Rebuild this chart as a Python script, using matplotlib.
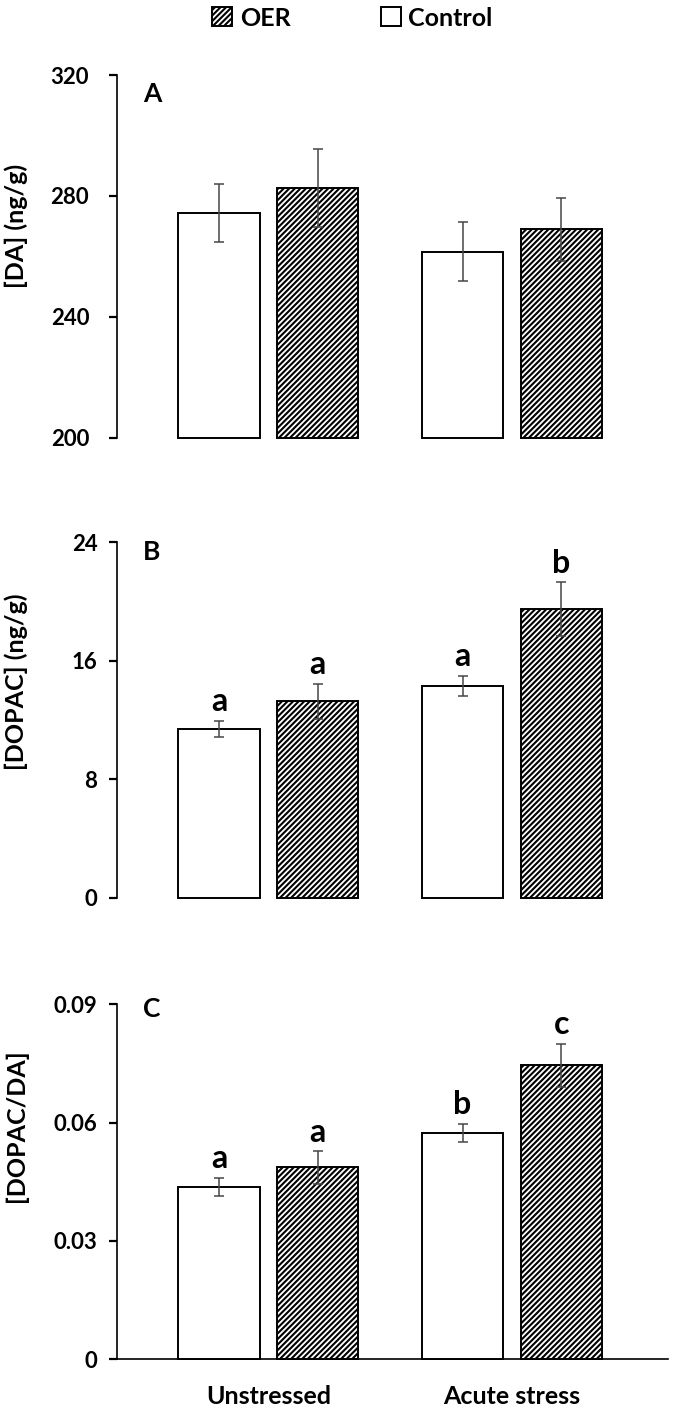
import matplotlib
matplotlib.use("Agg")
import matplotlib.pyplot as plt
import numpy as np

plt.rcParams['font.family'] = ['Lato', 'DejaVu Sans']
plt.rcParams['font.weight'] = 'bold'
plt.rcParams['hatch.linewidth'] = 1.5

# ---------------- data ----------------
groups = ["Unstressed", "Acute stress"]
series = ["OER", "Control"]

da_control = [274.3, 261.5]
da_control_err = [9.5, 9.8]
da_oer = [282.7, 268.9]
da_oer_err = [12.9, 10.3]

dopac_control = [11.4, 14.3]
dopac_control_err = [0.55, 0.7]
dopac_oer = [13.25, 19.5]
dopac_oer_err = [1.2, 1.8]
dopac_control_sig = ["a", "a"]
dopac_oer_sig = ["a", "b"]

ratio_control = [0.0436, 0.0573]
ratio_control_err = [0.0023, 0.0023]
ratio_oer = [0.0486, 0.0745]
ratio_oer_err = [0.0041, 0.0054]
ratio_control_sig = ["a", "b"]
ratio_oer_sig = ["a", "c"]

panel_letters = ["A", "B", "C"]
ylabels = ["[DA] (ng/g)", "[DOPAC] (ng/g)", "[DOPAC/DA]"]
yticks_A = [200, 240, 280, 320]
yticks_B = [0, 8, 16, 24]
yticks_C = [0, 0.03, 0.06, 0.09]
yticklabels_C = ["0", "0.03", "0.06", "0.09"]

# ---------------- figure ----------------
W, H = 674, 1411
fig = plt.figure(figsize=(W / 100, H / 100), dpi=100)
fig.patch.set_facecolor("white")


def px_axes(top, bottom, left=117, right=668):
    return [left / W, 1 - bottom / H, (right - left) / W, (bottom - top) / H]


axA = fig.add_axes(px_axes(75, 437.7))
axB = fig.add_axes(px_axes(542.3, 897.7))
axC = fig.add_axes(px_axes(1004.3, 1359))

x = np.arange(len(groups))
off = 0.203
bw = 0.333
err_kw = dict(fmt="none", ecolor="#474747", elinewidth=1.1, capsize=3.5,
              capthick=1.1, zorder=5)


def draw(ax, ctrl, ctrl_err, oer, oer_err, ylim, yticks, yticklabels, pad,
         ctrl_sig=None, oer_sig=None):
    base = ylim[0]
    bc = ax.bar(x - off, np.array(ctrl) - base, bw, bottom=base, color="white",
                edgecolor="black", linewidth=1.4, zorder=3, clip_on=False,
                label=series[1])
    bo = ax.bar(x + off, np.array(oer) - base, bw, bottom=base, color="white",
                edgecolor="black", hatch="//////", linewidth=1.4, zorder=3,
                clip_on=False, label=series[0])
    ax.errorbar(x - off, ctrl, yerr=ctrl_err, **err_kw)
    ax.errorbar(x + off, oer, yerr=oer_err, **err_kw)
    ax.set_ylim(*ylim)
    ax.set_xlim(-0.622, 1.641)
    ax.set_yticks(yticks)
    ax.set_yticklabels(yticklabels if yticklabels else [str(t) for t in yticks])
    for s in ["top", "right"]:
        ax.spines[s].set_visible(False)
    ax.spines["left"].set_linewidth(1.2)
    ax.tick_params(axis="y", length=6, width=1.6, pad=pad, labelsize=16)
    for lab in ax.get_yticklabels():
        lab.set_fontweight("bold")
    if ctrl_sig:
        for xi, v, e, s in zip(x - off, ctrl, ctrl_err, ctrl_sig):
            ax.annotate(s, (xi, v + e), xytext=(0, 7), textcoords="offset points",
                        ha="center", va="baseline", fontsize=23, fontweight="bold")
        for xi, v, e, s in zip(x + off, oer, oer_err, oer_sig):
            ax.annotate(s, (xi, v + e), xytext=(0, 7), textcoords="offset points",
                        ha="center", va="baseline", fontsize=23, fontweight="bold")
    return bo, bc


bo, bc = draw(axA, da_control, da_control_err, da_oer, da_oer_err, (200, 320),
              yticks_A, None, 14)
draw(axB, dopac_control, dopac_control_err, dopac_oer, dopac_oer_err, (0, 24),
     yticks_B, None, 8, dopac_control_sig, dopac_oer_sig)
draw(axC, ratio_control, ratio_control_err, ratio_oer, ratio_oer_err, (0, 0.09),
     yticks_C, yticklabels_C, 8, ratio_control_sig, ratio_oer_sig)

for ax in (axA, axB):
    ax.spines["bottom"].set_visible(False)
    ax.set_xticks([])
axC.spines["bottom"].set_linewidth(1.2)
axC.set_xticks(x)
axC.set_xticklabels(groups, fontsize=18, fontweight="bold")
axC.tick_params(axis="x", length=0, pad=19)

# panel letters (top edge in pixels)
for ax, L, ytop in zip((axA, axB, axC), panel_letters, [82, 540, 997]):
    fig.text(143 / W, 1 - ytop / H, L, ha="left", va="top", fontsize=19,
             fontweight="bold")

# y labels
for ycen, lab in zip([226, 682, 1126], ylabels):
    fig.text(16 / W, 1 - ycen / H, lab, rotation=90, ha="center", va="center",
             fontsize=18, fontweight="bold")

fig.legend([bo, bc], series, loc="center", bbox_to_anchor=(0.523, 1 - 18 / H),
           ncol=2, frameon=False, handlelength=0.8,
           handleheight=0.8, handletextpad=0.3, columnspacing=3.6,
           prop={"weight": "bold", "size": 18})

fig.savefig("out.png", dpi=100, facecolor="white")
